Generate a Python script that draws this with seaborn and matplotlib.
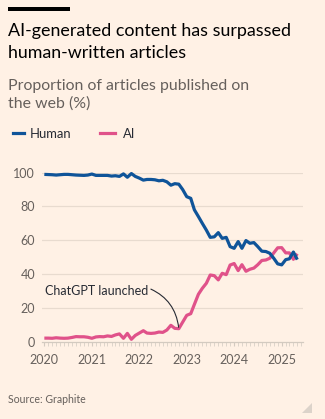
import numpy as np
import pandas as pd
import matplotlib
matplotlib.use("Agg")
import matplotlib.pyplot as plt
import matplotlib.dates as mdates
from matplotlib.patches import Rectangle, Polygon
from matplotlib.lines import Line2D
import seaborn as sns

# ---------------- data (monthly, Jan 2020 - May 2025) ----------------
start_month = "2020-01-01"
human = [99.0, 98.9, 98.8, 98.6, 98.8, 99.0, 99.0, 98.8, 98.6, 98.5,
         98.4, 98.6, 99.2, 98.4, 98.4, 98.4, 98.4, 98.0, 98.2, 97.8,
         99.3, 97.3, 99.5, 97.8, 96.8, 95.6, 96.0, 96.0, 95.8, 95.2,
         95.5, 94.6, 92.6, 93.5, 93.2, 90.0, 85.8, 84.8, 78.0, 74.0,
         70.0, 66.0, 61.7, 62.0, 64.5, 61.1, 61.7, 56.2, 55.2, 59.2,
         55.2, 59.8, 58.2, 58.6, 56.2, 53.5, 53.3, 52.3, 49.3, 46.0,
         45.4, 48.5, 49.0, 53.0, 48.5]
ai = [2.0, 2.0, 1.9, 2.2, 2.0, 1.9, 2.0, 2.4, 2.9, 2.8,
      2.8, 2.5, 1.9, 2.7, 2.9, 2.8, 3.3, 3.0, 3.9, 4.5,
      1.9, 4.8, 1.3, 3.6, 5.0, 6.4, 5.0, 4.8, 5.0, 5.6,
      5.4, 6.8, 9.6, 7.8, 7.6, 11.5, 15.5, 16.5, 22.0, 28.0,
      31.5, 34.5, 39.4, 39.0, 36.5, 40.4, 39.6, 45.3, 46.2, 42.0,
      45.5, 41.6, 42.8, 43.5, 45.5, 48.0, 48.3, 49.3, 52.5, 55.5,
      55.6, 52.5, 52.5, 48.7, 52.0]
series_names = ["Human", "AI"]
y_ticks = [0, 20, 40, 60, 80, 100]
annot_text = "ChatGPT launched"
annot_date = "2022-11-01"
annot_value = 7.6

dates = pd.date_range(start_month, periods=len(human), freq="MS")
df = pd.DataFrame({
    "date": list(dates) * 2,
    "value": human + ai,
    "series": ["Human"] * len(human) + ["AI"] * len(ai),
})

# ---------------- style ----------------
BG = "#FFF1E5"
BLUE = "#0F5499"
PINK = "#E0528A"
GREY = "#66605C"
GRID = "#E8DBCF"

plt.rcParams["font.family"] = ["Lato", "DejaVu Sans"]

W, H = 325, 419
fig = plt.figure(figsize=(W / 100, H / 100), dpi=100, facecolor=BG)

def fx(px):
    return px / W

def fy(py):
    return 1 - py / H

ax_left, ax_right = 42, 303
ax_top, ax_bottom = 172.7, 341.5
ax = fig.add_axes([fx(ax_left), fy(ax_bottom), fx(ax_right - ax_left),
                   (ax_bottom - ax_top) / H])
ax.set_facecolor(BG)

sns.lineplot(data=df, x="date", y="value", hue="series",
             hue_order=["AI", "Human"], palette={"Human": BLUE, "AI": PINK},
             linewidth=2.3, legend=False, ax=ax, clip_on=False)
for ln in ax.lines:
    ln.set_solid_joinstyle("round")
    ln.set_solid_capstyle("butt")
    ln.set_zorder(3)

ax.set_ylim(0, 100)
ax.set_xlim(pd.Timestamp("2019-12-14"), pd.Timestamp("2025-06-14"))
ax.set_yticks(y_ticks)
ax.set_yticklabels([str(t) for t in y_ticks])
for t in y_ticks[1:]:
    ax.axhline(t, color=GRID, linewidth=0.9, zorder=1)

ax.xaxis.set_major_locator(mdates.YearLocator())
ax.xaxis.set_major_formatter(mdates.DateFormatter("%Y"))
ax.xaxis.set_minor_locator(mdates.MonthLocator())

for s in ["top", "right", "left"]:
    ax.spines[s].set_visible(False)
ax.spines["bottom"].set_color("#D3CAC0")
ax.spines["bottom"].set_linewidth(0.9)

ax.tick_params(axis="y", length=0, pad=5, labelsize=9, labelcolor=GREY)
ax.tick_params(axis="x", which="major", length=3.2, width=0.8, color="#D3CAC0",
               pad=6, labelsize=9, labelcolor=GREY)
ax.tick_params(axis="x", which="minor", length=2.6, width=0.6, color="#D8D0C6")
ax.set_xlabel("")
ax.set_ylabel("")

# annotation
ax.annotate(annot_text, xy=(pd.Timestamp(annot_date), annot_value),
            xytext=(pd.Timestamp("2020-01-05"), 27.6), textcoords="data",
            ha="left", va="baseline", fontsize=9, color="#262A33",
            arrowprops=dict(arrowstyle="-", color="#262A33", linewidth=0.8,
                            connectionstyle="arc3,rad=-0.3",
                            relpos=(1.0, 0.75), shrinkA=0, shrinkB=1),
            zorder=4)

# ---------------- header ----------------
fig.add_artist(Rectangle((fx(8), fy(11.5)), fx(62), 4.5 / H,
                         transform=fig.transFigure, color="#000000", lw=0))
fig.text(fx(8), fy(35.7), "AI-generated content has surpassed",
         fontsize=12.9, color="#000000", va="baseline", ha="left")
fig.text(fx(8), fy(58.3), "human-written articles",
         fontsize=12.9, color="#000000", va="baseline", ha="left")
fig.text(fx(8), fy(90), "Proportion of articles published on",
         fontsize=11.4, color=GREY, va="baseline", ha="left")
fig.text(fx(8), fy(107.5), "the web (%)",
         fontsize=11.4, color=GREY, va="baseline", ha="left")

# legend
leg_y = 133.5
fig.add_artist(Line2D([fx(13), fx(23.5)], [fy(leg_y), fy(leg_y)],
                      transform=fig.transFigure, color=BLUE, linewidth=2.3))
fig.text(fx(30), fy(137.5), series_names[0], fontsize=9.4, color="#262A33",
         va="baseline", ha="left")
fig.add_artist(Line2D([fx(100), fx(115)], [fy(leg_y), fy(leg_y)],
                      transform=fig.transFigure, color=PINK, linewidth=2.3))
fig.text(fx(123), fy(137.5), series_names[1], fontsize=9.4, color="#262A33",
         va="baseline", ha="left")

# source
fig.text(fx(8), fy(402.5), "Source: Graphite", fontsize=7.6, color=GREY,
         va="baseline", ha="left")

# resize grip
fig.add_artist(Polygon([[fx(312), fy(403)], [fx(312), fy(413)], [fx(302), fy(413)]],
                       closed=True, transform=fig.transFigure,
                       color="#DCD3CA", lw=0))

fig.savefig("out.png", dpi=100, facecolor=BG)
